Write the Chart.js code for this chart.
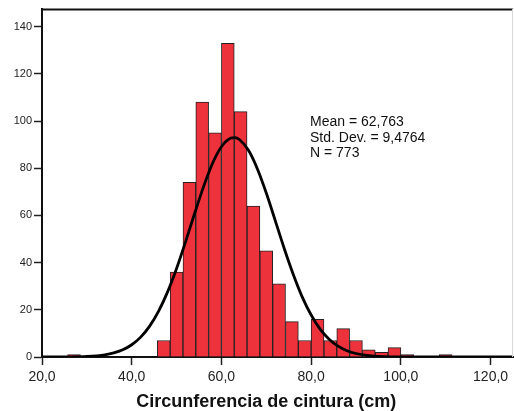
<!DOCTYPE html>
<html>
<head>
<meta charset="utf-8">
<script src="https://cdn.jsdelivr.net/npm/chart.js@4/dist/chart.umd.min.js"></script>
<style>
  html, body { margin: 0; padding: 0; background: #fff; }
  #wrap { width: 514px; height: 411px; }
</style>
</head>
<body>
<div id="wrap"><canvas id="chart"></canvas></div>
<script>
  // histogram bins (centres, bin width 20/7 cm) and counts
  const binCenters = [27.143, 30.0, 32.857, 35.714, 38.571, 41.429, 44.286, 47.143, 50.0, 52.857,
    55.714, 58.571, 61.429, 64.286, 67.143, 70.0, 72.857, 75.714, 78.571, 81.429,
    84.286, 87.143, 90.0, 92.857, 95.714, 98.571, 101.429, 104.286, 107.143, 110.0];
  const binCounts = [1, 0, 0, 0, 0, 0, 0, 7, 36, 74,
    108, 95, 133, 104, 64, 45, 31, 15, 7, 16,
    7, 12, 7, 3, 2, 4, 1, 0, 0, 1];

  // normal curve
  const curveX = [20, 26, 30, 34, 36, 38, 40, 42, 44, 46, 48, 50, 52, 54, 56, 58, 60, 62, 63, 64,
    66, 68, 70, 72, 74, 76, 78, 80, 82, 84, 86, 88, 90, 92, 94, 96, 100, 110, 125];
  const curveY = [0, 0.05, 0.24, 0.93, 1.72, 3.06, 5.19, 8.43, 13.1, 19.45, 27.6, 37.5, 48.8, 60.7, 72.1, 82.0, 89.1, 92.7, 93.0, 92.2,
    87.7, 79.8, 69.5, 57.8, 46.0, 35.1, 25.5, 17.8, 11.85, 7.55, 4.6, 2.68, 1.49, 0.8, 0.41, 0.2, 0.04, 0, 0];

  const xTicks = [20, 40, 60, 80, 100, 120];
  const xTickLabels = ["20,0", "40,0", "60,0", "80,0", "100,0", "120,0"];
  const yTicks = [0, 20, 40, 60, 80, 100, 120, 140];

  const statsLines = ["Mean = 62,763", "Std. Dev. = 9,4764", "N = 773"];
  const xTitle = "Circunferencia de cintura (cm)";

  const FONT = "'Liberation Sans', Arial, Helvetica, sans-serif";

  const extras = {
    id: "extras",
    afterDraw(chart) {
      const { ctx, chartArea: a, scales } = chart;
      ctx.save();
      // frame: dark top, light right
      ctx.strokeStyle = "#111";
      ctx.lineWidth = 2;
      ctx.beginPath();
      ctx.moveTo(a.left, a.top + 0.5);
      ctx.lineTo(a.right, a.top + 0.5);
      ctx.stroke();
      ctx.strokeStyle = "#d8d8d8";
      ctx.lineWidth = 1;
      ctx.beginPath();
      ctx.moveTo(a.right - 0.5, a.top);
      ctx.lineTo(a.right - 0.5, a.bottom);
      ctx.stroke();

      // stats text
      ctx.fillStyle = "#111";
      ctx.font = "14px " + FONT;
      ctx.textAlign = "left";
      ctx.textBaseline = "alphabetic";
      statsLines.forEach((s, i) => ctx.fillText(s, 310, 126 + i * 15.5));

      // axis title centred on the tick range
      const cx = (scales.x.getPixelForValue(xTicks[0]) + scales.x.getPixelForValue(xTicks[xTicks.length - 1])) / 2;
      ctx.font = "bold 18px " + FONT;
      ctx.textAlign = "center";
      ctx.fillText(xTitle, cx, 407);
      ctx.restore();
    },
  };

  new Chart(document.getElementById("chart"), {
    type: "bar",
    data: {
      datasets: [
        {
          type: "line",
          data: curveX.map((x, i) => ({ x, y: curveY[i] })),
          borderColor: "#000",
          borderWidth: 2.8,
          pointRadius: 0,
          cubicInterpolationMode: "monotone",
          fill: false,
        },
        {
          type: "bar",
          data: binCenters.map((x, i) => ({ x, y: binCounts[i] })),
          backgroundColor: "#ee323b",
          borderColor: "#222",
          borderWidth: 1,
          barPercentage: 1,
          categoryPercentage: 1,
        },
      ],
    },
    options: {
      responsive: true,
      maintainAspectRatio: false,
      animation: false,
      layout: { padding: { top: 9, right: 1, left: 0, bottom: 0 } },
      plugins: { legend: { display: false }, tooltip: { enabled: false } },
      scales: {
        x: {
          type: "linear",
          offset: false,
          min: 20,
          max: 125,
          afterBuildTicks: (s) => { s.ticks = xTicks.map((v) => ({ value: v })); },
          afterFit: (s) => { s.height = 54; },
          ticks: {
            autoSkip: false,
            maxRotation: 0,
            padding: 4,
            color: "#222",
            font: { size: 14, family: FONT },
            callback: (v) => xTickLabels[xTicks.indexOf(v)],
          },
          grid: {
            offset: false,
            drawOnChartArea: false,
            drawTicks: true,
            tickLength: 8,
            tickWidth: 1.5,
            color: "#222",
          },
          border: { display: true, color: "#111", width: 2 },
        },
        y: {
          min: 0,
          max: 147.5,
          afterBuildTicks: (s) => { s.ticks = yTicks.map((v) => ({ value: v })); },
          afterFit: (s) => { s.width = 42; },
          ticks: {
            padding: 2,
            color: "#222",
            font: { size: 11, family: FONT },
          },
          grid: {
            drawOnChartArea: false,
            drawTicks: true,
            tickLength: 8,
            tickWidth: 1.5,
            color: "#222",
          },
          border: { display: true, color: "#111", width: 2 },
        },
      },
    },
    plugins: [extras],
  });
</script>
</body>
</html>
